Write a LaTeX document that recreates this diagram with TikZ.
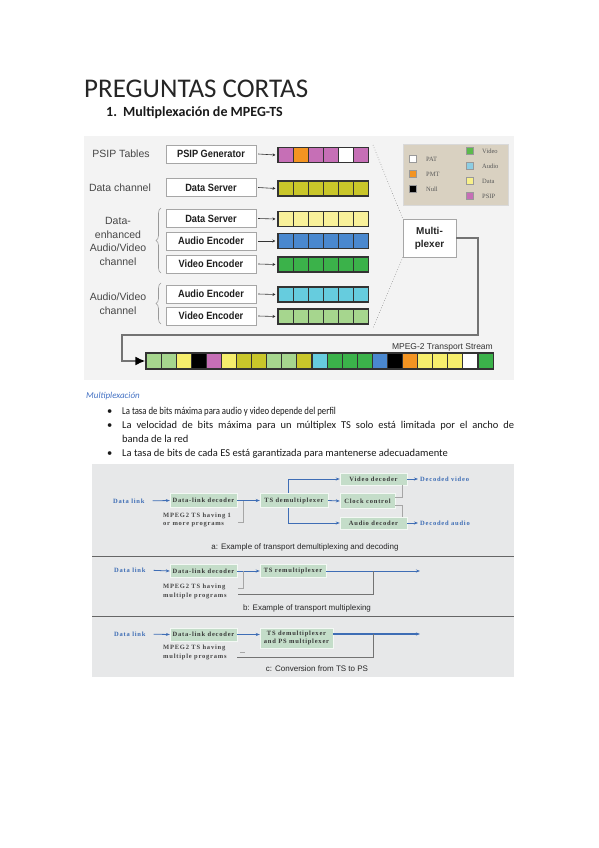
\documentclass[tikz,border=0pt]{standalone}
\usepackage{fontspec}
\setmainfont{Carlito}
\newfontfamily\arialf{Liberation Sans}
\newfontfamily\timesf{Liberation Serif}
\newfontfamily\timessp{Liberation Serif}[LetterSpace=12]
\usetikzlibrary{arrows.meta,decorations.pathreplacing,calc}
\definecolor{topbg}{HTML}{F3F3F3}
\definecolor{botbg}{HTML}{E7E8E9}
\definecolor{pk}{HTML}{C66FB6}
\definecolor{og}{HTML}{F39422}
\definecolor{ol}{HTML}{C9C62A}
\definecolor{ly}{HTML}{F8F09A}
\definecolor{ty}{HTML}{F6EE6C}
\definecolor{bl}{HTML}{4A88CF}
\definecolor{gr}{HTML}{3BB24A}
\definecolor{cy}{HTML}{66CCDE}
\definecolor{lg}{HTML}{A6D68E}
\definecolor{legbg}{HTML}{D9D1C1}
\definecolor{lgv}{HTML}{5CBA4C}
\definecolor{lga}{HTML}{8CCDE3}
\definecolor{lgd}{HTML}{F8F08A}
\definecolor{gbox}{HTML}{C4DDC9}
\definecolor{barr}{HTML}{3E6DB5}
\definecolor{wordblue}{HTML}{4472C4}
\tikzset{
  lbl/.style={font=\arialf\fontsize{10.5}{13.5}\selectfont, text=black!72, align=center, inner sep=0},
  srcbox/.style={draw=black!35, fill=white, minimum width=90pt, minimum height=18pt, inner sep=0,
     font=\arialf\bfseries\fontsize{10.5}{12}\selectfont, text=black!88},
  cell/.style={draw=black!80, line width=1.1pt, minimum width=15.15pt, minimum height=15pt, inner sep=0},
  tscell/.style={draw=black!80, line width=1.1pt, minimum width=15.09pt, minimum height=16pt, inner sep=0},
  sarrow/.style={draw=black!80, line width=0.6pt, -{Stealth[length=3pt,width=3pt]}},
  legsq/.style={draw=black!40, minimum size=7pt, inner sep=0},
  legtx/.style={font=\timesf\fontsize{6.5}{7}\selectfont, text=black!65, anchor=west, inner sep=0},
  brc/.style={draw=black!40, line width=0.6pt, decorate, decoration={brace, amplitude=5pt}},
  gb/.style={fill=gbox, draw=white!80!gbox, inner sep=0, font=\timessp\bfseries\fontsize{6.5}{8}\selectfont, text=black!78, align=center},
  barrow/.style={draw=barr, line width=0.8pt, -{Stealth[length=4pt,width=3pt]}},
  bline/.style={draw=barr, line width=0.8pt},
  gline/.style={draw=black!55, line width=1pt},
  lgline/.style={draw=black!35, line width=0.8pt},
  dlink/.style={font=\timessp\bfseries\fontsize{6.5}{8}\selectfont, text=barr, anchor=west, inner sep=0},
  btxt/.style={font=\timessp\bfseries\fontsize{6.5}{8.5}\selectfont, text=black!72, anchor=north west, align=left, inner sep=0},
  captxt/.style={font=\arialf\fontsize{8}{9}\selectfont, text=black!85, inner sep=0},
  body/.style={font=\fontsize{10.5}{12}\selectfont, anchor=base west, inner sep=0, text=black!90},
}
\begin{document}
\begin{tikzpicture}[x=1pt,y=-1pt]
\useasboundingbox (0,0) rectangle (599,848);
\fill[white] (0,0) rectangle (599,848);

% ---- headings
\node[anchor=base west, inner sep=0, font=\fontsize{27}{30}\selectfont, text=black!85] (title) at (84,98) {PREGUNTAS CORTAS};
\node[anchor=base west, inner sep=0, font=\bfseries\fontsize{14}{16}\selectfont, text=black!90] (hnum) at (106,117) {1.};
\node[anchor=base west, inner sep=0, font=\bfseries\fontsize{14}{16}\selectfont, text=black!90] (head) at (123,117) {Multiplexación de MPEG-TS};

% ---- top figure
\fill[topbg] (84,136) rectangle (514,380);

\node[lbl] (lpsip) at (121,154) {PSIP Tables};
\node[lbl] (ldata) at (120,187.5) {Data channel};
\node[lbl] (lde) at (118,241.5) {Data-\\enhanced\\Audio/Video\\channel};
\node[lbl] (lav) at (118,303.5) {Audio/Video\\channel};
\draw[brc] (161,273) -- (161,208);
\draw[brc] (161,324) -- (161,283);

\node[srcbox] (b1) at (211,154) {\scalebox{0.88}[1]{PSIP Generator}};
\node[srcbox] (b2) at (211,187.5) {\scalebox{0.88}[1]{Data Server}};
\node[srcbox] (b3) at (211,218.5) {\scalebox{0.88}[1]{Data Server}};
\node[srcbox] (b4) at (211,241) {\scalebox{0.88}[1]{Audio Encoder}};
\node[srcbox] (b5) at (211,264) {\scalebox{0.88}[1]{Video Encoder}};
\node[srcbox] (b6) at (211,294) {\scalebox{0.88}[1]{Audio Encoder}};
\node[srcbox] (b7) at (211,316) {\scalebox{0.88}[1]{Video Encoder}};

\foreach \c [count=\i from 0] in {pk,og,pk,pk,white,pk}
  \node[cell,fill=\c] (r1c\i) at ({285.6+15.15*\i},155) {};
\foreach \i in {0,...,5} \node[cell,fill=ol] (r2c\i) at ({285.6+15.15*\i},188.5) {};
\foreach \i in {0,...,5} \node[cell,fill=ly] (r3c\i) at ({285.6+15.15*\i},219) {};
\foreach \i in {0,...,5} \node[cell,fill=bl] (r4c\i) at ({285.6+15.15*\i},241) {};
\foreach \i in {0,...,5} \node[cell,fill=gr] (r5c\i) at ({285.6+15.15*\i},264.5) {};
\foreach \i in {0,...,5} \node[cell,fill=cy] (r6c\i) at ({285.6+15.15*\i},294.5) {};
\foreach \i in {0,...,5} \node[cell,fill=lg] (r7c\i) at ({285.6+15.15*\i},316.5) {};

\foreach \r in {1,...,7}
  \draw[sarrow] ([xshift=2pt]b\r.east) -- ([xshift=-2pt]r\r c0.west);

% legend
\node[fill=legbg, draw=black!15, minimum width=105pt, minimum height=61pt, inner sep=0] (legend) at (455.5,174.5) {};
\node[legsq,fill=white] (sqpat) at (413,159) {};
\node[legsq,fill=og] (sqpmt) at (413,174) {};
\node[legsq,fill=black] (sqnull) at (413,189) {};
\node[legtx] (tpat) at (426,159) {PAT};
\node[legtx] (tpmt) at (426,174) {PMT};
\node[legtx] (tnull) at (426,189) {Null};
\node[legsq,fill=lgv] (sqv) at (470,151) {};
\node[legsq,fill=lga] (sqa) at (470,166) {};
\node[legsq,fill=lgd] (sqd) at (470,181) {};
\node[legsq,fill=pk] (sqp) at (470,196) {};
\node[legtx] (tv) at (482,151) {Video};
\node[legtx] (ta) at (482,166) {Audio};
\node[legtx] (td) at (482,181) {Data};
\node[legtx] (tp) at (482,196) {PSIP};

% multiplexer
\node[draw=black!35, fill=white, minimum width=53pt, minimum height=38pt, inner sep=0, align=center,
      font=\arialf\bfseries\fontsize{10}{13}\selectfont, text=black!85] (mux) at (429.5,238) {Multi-\\plexer};
\coordinate (dtop) at (373,145);
\coordinate (dbot) at (373,328);
\draw[black!45, dotted, line width=0.6pt] (dtop) -- (mux.north west);
\draw[black!45, dotted, line width=0.6pt] (mux.south west) -- (dbot);

% transport stream
\foreach \c [count=\i from 0] in {lg,lg,ty,black,pk,ty,ol,ol,lg,lg,ol,cy,gr,gr,gr,bl,black,og,ty,ty,ty,white,gr}
  \node[tscell,fill=\c] (ts\i) at ({146+15.09*(\i+0.5)},361) {};
\node[anchor=base east, inner sep=0, font=\arialf\fontsize{8.5}{10}\selectfont, text=black!80] (tslbl) at (493,349) {MPEG-2 Transport Stream};
\coordinate (o1) at (478,335);
\coordinate (o2) at (122,361);
\draw[black!55, line width=2pt] (mux.east) -| (o1) -| (o2) -- ([xshift=-6pt]ts0.west);
\draw[-{Latex[length=10pt,width=9pt,color=black]}, black!55, line width=2pt] ([xshift=-10pt]ts0.west) -- (ts0.west);

% ---- bullet text
\node[anchor=base west, inner sep=0, font=\itshape\fontsize{9}{11}\selectfont, text=wordblue] (mtit) at (86,398) {Multiplexación};
\node[body] (bu1) at (107,414) {•};
\node[body] (bu2) at (107,428) {•};
\node[body] (bu3) at (107,456) {•};
\node[body] (l1) at (122,414) {\scalebox{0.83}[1]{La tasa de bits máxima para audio y video depende del perfil}};
\node[body] (l2) at (122,428) {\makebox[392pt][s]{La velocidad de bits máxima para un múltiplex TS solo está limitada por el ancho de}};
\node[body] (l3) at (122,442) {banda de la red};
\node[body] (l4) at (122,456) {La tasa de bits de cada ES está garantizada para mantenerse adecuadamente};

% ---- bottom figure
\fill[botbg] (92,464) rectangle (514,677);
\draw[black!60, line width=0.9pt] (92,556) -- (514,556);
\draw[black!60, line width=0.9pt] (92,616) -- (514,616);

% panel a
\node[dlink] (dla) at (113,501) {Data link};
\node[gb, minimum width=67pt, minimum height=14pt] (deca) at (203.5,500.5) {Data-link decoder};
\coordinate (sa1) at (288,479);
\coordinate (sa2) at (288,523);
\node[gb, minimum width=67pt, minimum height=12pt] (vida) at (373.5,479) {Video decoder};
\node[gb, minimum width=55pt, minimum height=15pt] (clka) at (367.5,501) {Clock control};
\node[gb, minimum width=67pt, minimum height=12pt] (auda) at (373.5,523) {Audio decoder};
\draw[barrow] (sa1) -- (vida.west);
\draw[barrow] (sa2) -- (auda.west);
\draw[bline] (sa1) -- (sa2);
\node[gb, minimum width=68pt, minimum height=14pt] (dmxa) at (294,500.5) {TS demultiplexer};
\draw[barrow, shorten <=8pt] (dla.east) -- (deca.west);
\draw[barrow] (deca.east) -- (dmxa.west);
\draw[barrow] (dmxa.east) -- (clka.west);
\coordinate (ka1) at (402,497);
\coordinate (ka2) at (402,505);
\draw[lgline] (clka.east |- ka1) -- (ka1) -- (ka1 |- vida.south);
\draw[lgline] (clka.east |- ka2) -- (ka2) -- (ka2 |- auda.north);
\node[dlink] (dva) at (420,479) {Decoded video};
\node[dlink] (daa) at (420,523) {Decoded audio};
\draw[barrow, shorten >=2pt] (vida.east) -- (dva.west);
\draw[barrow, shorten >=2pt] (auda.east) -- (daa.west);
\node[btxt] (mpa) at (163,512.5) {MPEG2 TS having 1\\or more programs};
\coordinate (ta1) at (243,501);
\coordinate (ta2) at (243,522);
\coordinate (ta3) at (238,522);
\draw[lgline] (ta1) -- (ta2) -- (ta3);
\node[captxt] (capa) at (305,547) {a: Example of transport demultiplexing and decoding};

% panel b
\node[dlink] (dlb) at (114,570) {Data link};
\node[gb, minimum width=67pt, minimum height=13pt] (decb) at (203.5,571) {Data-link decoder};
\node[gb, minimum width=66pt, minimum height=13pt] (rmxb) at (293,571) {TS remultiplexer};
\coordinate (outb) at (420,571);
\draw[barrow, shorten <=8pt] (dlb.east) -- (decb.west);
\draw[barrow] (decb.east) -- (rmxb.west);
\draw[barrow] (rmxb.east) -- (outb);
\coordinate (gb1) at (373,571);
\coordinate (gb2) at (373,594);
\coordinate (gb3) at (238,594);
\draw[gline] (gb1) -- (gb2) -- (gb3);
\coordinate (tb1) at (243,571);
\coordinate (tb2) at (243,588);
\coordinate (tb3) at (238,588);
\draw[lgline] (tb1) -- (tb2) -- (tb3);
\node[btxt] (mpb) at (163,584) {MPEG2 TS having\\multiple programs};
\node[captxt] (capb) at (307,608) {b: Example of transport multiplexing};

% panel c
\node[dlink] (dlc) at (114,634) {Data link};
\node[gb, minimum width=67pt, minimum height=13pt] (decc) at (203.5,634.5) {Data-link decoder};
\node[gb, minimum width=73pt, minimum height=20pt] (psmc) at (296.5,638) {TS demultiplexer\\and PS multiplexer};
\coordinate (outc) at (420,634);
\draw[barrow, shorten <=8pt] (dlc.east) -- (decc.west);
\draw[barrow] (decc.east) -- (decc.east -| psmc.west);
\draw[barrow, line width=1.3pt] (psmc.east |- outc) -- (outc);
\coordinate (gc1) at (373,634);
\coordinate (gc2) at (373,657);
\coordinate (gc3) at (237,657);
\draw[gline] (gc1) -- (gc2) -- (gc3);
\coordinate (tc1) at (240,652);
\coordinate (tc2) at (245,652);
\draw[lgline] (tc1) -- (tc2);
\node[btxt] (mpc) at (163,645) {MPEG2 TS having\\multiple programs};
\node[captxt] (capc) at (317,669) {c: Conversion from TS to PS};
\end{tikzpicture}
\end{document}
